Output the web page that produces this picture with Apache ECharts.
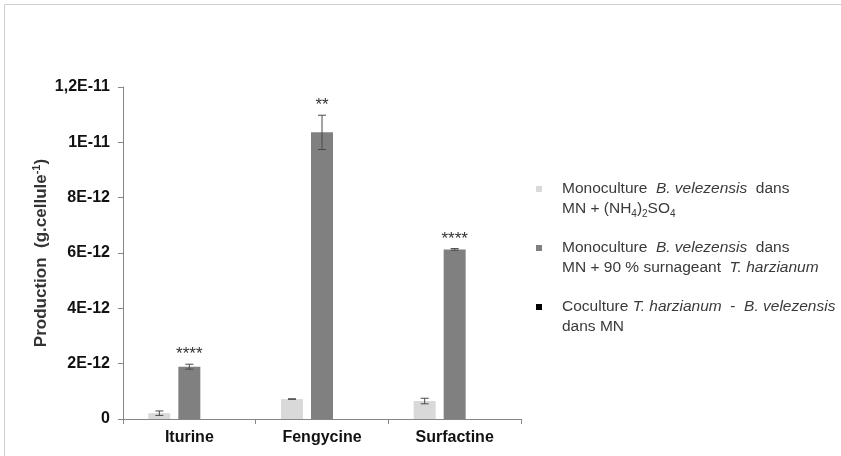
<!DOCTYPE html>
<html>
<head>
<meta charset="utf-8">
<script src="https://cdn.jsdelivr.net/npm/echarts@6/dist/echarts.min.js"></script>
<style>
  html, body { margin: 0; padding: 0; background: #ffffff; }
  #chart { width: 841px; height: 456px; }
</style>
</head>
<body>
<div id="chart"></div>
<script>
// ---- data (values in units of 1E-12 g/cellule) ----
const categories = ['Iturine', 'Fengycine', 'Surfactine'];
const seriesNames = [
  'Monoculture B. velezensis dans MN + (NH4)2SO4',
  'Monoculture B. velezensis dans MN + 90 % surnageant T. harzianum',
  'Coculture T. harzianum - B. velezensis dans MN'
];
const monoNH4 = [0.21, 0.72, 0.65];
const monoNH4Err = [0.08, 0.01, 0.10];
const monoSurn = [1.89, 10.36, 6.13];
const monoSurnErr = [0.09, 0.62, 0.03];
const coculture = [null, null, null];
const significance = ['****', '**', '****'];
const yTickLabels = ['0', '2E-12', '4E-12', '6E-12', '8E-12', '1E-11', '1,2E-11'];

// ---- style constants ----
const BAR_W = 22;
const BAR_GAP = 8;
const FONT = 'Liberation Sans, Arial, sans-serif';
const colors = ['#d9d9d9', '#808080', '#000000'];
const LEG_FS = 15.5;

const legendRich = {
  n: { fontFamily: FONT, fontSize: LEG_FS, color: '#3a3a3a', lineHeight: 20 },
  i: { fontFamily: FONT, fontSize: LEG_FS, fontStyle: 'italic', color: '#3a3a3a', lineHeight: 20 },
  s: { fontFamily: FONT, fontSize: 10, color: '#3a3a3a', lineHeight: 20, verticalAlign: 'bottom', padding: [6, 0, 0, 0] }
};
const legendFormats = {};
legendFormats[seriesNames[0]] = '{n|Monoculture  }{i|B. velezensis}{n|  dans}\n{n|MN + (NH}{s|4}{n|)}{s|2}{n|SO}{s|4}';
legendFormats[seriesNames[1]] = '{n|Monoculture  }{i|B. velezensis}{n|  dans}\n{n|MN + 90 % surnageant  }{i|T. harzianum}';
legendFormats[seriesNames[2]] = '{n|Coculture }{i|T. harzianum}{n|  -  }{i|B. velezensis}\n{n|dans MN}';

function errorSeries(values, errs, offset, stars) {
  return {
    type: 'custom',
    z: 5,
    silent: true,
    data: values.map((v, i) => [i, v, errs[i]]),
    encode: { x: 0, y: 1 },
    renderItem: function (params, api) {
      const i = api.value(0), v = api.value(1), e = api.value(2);
      const hi = api.coord([i, v + e]);
      const lo = api.coord([i, v - e]);
      const x = hi[0] + offset;
      const cap = 4;
      const st = { stroke: '#4a4a4a', lineWidth: 1 };
      const children = [
        { type: 'line', shape: { x1: x, y1: hi[1], x2: x, y2: lo[1] }, style: st },
        { type: 'line', shape: { x1: x - cap, y1: hi[1], x2: x + cap, y2: hi[1] }, style: st },
        { type: 'line', shape: { x1: x - cap, y1: lo[1], x2: x + cap, y2: lo[1] }, style: st }
      ];
      if (stars && stars[params.dataIndex]) {
        children.push({
          type: 'text',
          style: {
            text: stars[params.dataIndex], x: x, y: hi[1] - 1,
            align: 'center', verticalAlign: 'bottom',
            font: '17px ' + FONT, fill: '#333333'
          }
        });
      }
      return { type: 'group', children: children };
    }
  };
}

const chart = echarts.init(document.getElementById('chart'), null, { renderer: 'canvas' });
chart.setOption({
  animation: false,
  backgroundColor: '#ffffff',
  grid: { left: 123, right: 320, top: 87, bottom: 37 },
  legend: {
    orient: 'vertical',
    left: 536,
    top: 159,
    padding: 0,
    itemGap: -1,
    itemWidth: 6,
    itemHeight: 6,
    icon: 'rect',
    selectedMode: false,
    data: seriesNames,
    formatter: function (name) { return legendFormats[name]; },
    textStyle: { padding: [20, 0, 0, 15], rich: legendRich, fontSize: LEG_FS, lineHeight: 20 }
  },
  xAxis: {
    type: 'category',
    data: categories,
    axisLine: { lineStyle: { color: '#868686', width: 1 } },
    axisTick: { show: true, length: 5, lineStyle: { color: '#868686' } },
    axisLabel: { fontFamily: FONT, fontSize: 16, fontWeight: 'bold', color: '#111111', margin: 11 }
  },
  yAxis: {
    type: 'value',
    min: 0,
    max: 12,
    interval: 2,
    splitLine: { show: false },
    axisLine: { show: true, lineStyle: { color: '#868686', width: 1 } },
    axisTick: { show: true, length: 5, lineStyle: { color: '#868686' } },
    axisLabel: {
      fontFamily: FONT, fontSize: 16, fontWeight: 'bold', color: '#111111', margin: 13,
      formatter: function (v) { return yTickLabels[Math.round(v / 2)]; }
    }
  },
  graphic: [
    {
      type: 'rect', silent: true, z: -10,
      shape: { x: 4.5, y: 4.5, width: 900, height: 500 },
      style: { fill: 'none', stroke: '#cfcfcf', lineWidth: 1 }
    },
    {
      type: 'text', silent: true,
      x: 41, y: 253, rotation: Math.PI / 2,
      style: {
        text: '{b|Production  (g.cellule}{sup|-1}{b|)}',
        align: 'center', verticalAlign: 'middle',
        rich: {
          b: { fontFamily: FONT, fontSize: 17, fontWeight: 'bold', fill: '#333333', lineHeight: 20 },
          sup: { fontFamily: FONT, fontSize: 11, fontWeight: 'bold', fill: '#333333', lineHeight: 20, verticalAlign: 'top', padding: [0, 0, 6, 0] }
        }
      }
    }
  ],
  series: [
    {
      name: seriesNames[0], type: 'bar', data: monoNH4,
      barWidth: BAR_W, barGap: (BAR_GAP / BAR_W * 100) + '%',
      itemStyle: { color: colors[0] }
    },
    {
      name: seriesNames[1], type: 'bar', data: monoSurn,
      barWidth: BAR_W, barGap: (BAR_GAP / BAR_W * 100) + '%',
      itemStyle: { color: colors[1] }
    },
    {
      name: seriesNames[2], type: 'bar', data: coculture,
      barWidth: BAR_W, barGap: (BAR_GAP / BAR_W * 100) + '%',
      itemStyle: { color: colors[2] }
    },
    errorSeries(monoNH4, monoNH4Err, -(BAR_W + BAR_GAP), null),
    errorSeries(monoSurn, monoSurnErr, 0, significance)
  ]
});
</script>
</body>
</html>
